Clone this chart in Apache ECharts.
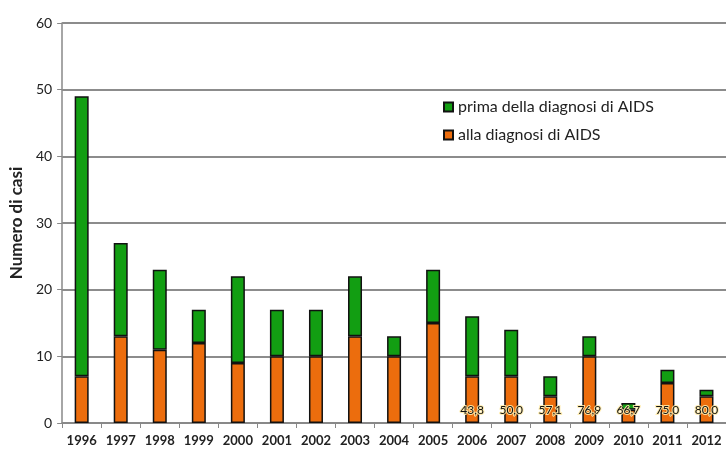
<!DOCTYPE html>
<html>
<head>
<meta charset="utf-8">
<script src="https://cdn.jsdelivr.net/npm/echarts@6/dist/echarts.min.js"></script>
<style>
  html, body { margin: 0; padding: 0; background: #fff; }
  #chart { width: 726px; height: 452px; }
</style>
</head>
<body>
<div id="chart"></div>
<script>
// anni
const years = ['1996', '1997', '1998', '1999', '2000', '2001', '2002', '2003', '2004',
  '2005', '2006', '2007', '2008', '2009', '2010', '2011', '2012']
// casi alla diagnosi di AIDS
const allaDiagnosi = [7, 13, 11, 12, 9, 10, 10, 13, 10, 15, 7, 7, 4, 10, 2, 6, 4]
// casi prima della diagnosi di AIDS
const primaDiagnosi = [42, 14, 12, 5, 13, 7, 7, 9, 3, 8, 9, 7, 3, 3, 1, 2, 1]
// percentuali mostrate sulle barre (solo dal 2006)
const percentuali = ['', '', '', '', '', '', '', '', '', '', '43,8', '50,0', '57,1', '76,9', '66,7', '75,0', '80,0']

const chart = echarts.init(document.getElementById('chart'))
const font = 'Lato, "Open Sans", sans-serif'

const option = {
  animation: false,
  textStyle: { fontFamily: font },
  grid: { left: 61, top: 23, bottom: 29, right: -3 },
  legend: {
    orient: 'vertical',
    left: 438,
    top: 94,
    itemGap: 12,
    itemWidth: 9,
    itemHeight: 9,
    icon: 'rect',
    textStyle: { fontSize: 16, color: '#222', fontFamily: font },
    data: ['prima della diagnosi di AIDS', 'alla diagnosi di AIDS']
  },
  xAxis: {
    type: 'category',
    data: years,
    axisLine: { lineStyle: { color: '#888', width: 1.5 } },
    axisTick: { show: true, length: 5, interval: 0, lineStyle: { color: '#888' } },
    axisLabel: { color: '#222', fontSize: 13, fontWeight: 'bold', margin: 11, interval: 0, fontFamily: font }
  },
  yAxis: {
    type: 'value',
    min: 0,
    max: 60,
    interval: 10,
    name: 'Numero di casi',
    nameLocation: 'middle',
    nameGap: 36,
    nameTextStyle: { fontSize: 17, color: '#222', fontWeight: 'bold', fontFamily: font },
    axisLine: { show: true, lineStyle: { color: '#888', width: 1.5 } },
    axisTick: { show: true, length: 5, inside: false, lineStyle: { color: '#888' } },
    axisLabel: { color: '#222', fontSize: 14, margin: 10, fontFamily: font },
    splitLine: { lineStyle: { color: '#666', width: 1.5 } }
  },
  series: [
    {
      name: 'alla diagnosi di AIDS',
      type: 'bar',
      stack: 'casi',
      barWidth: 14,
      data: allaDiagnosi,
      itemStyle: { color: '#ec6d0d', borderColor: '#111', borderWidth: 1.5 },
      label: {
        show: true,
        position: 'insideBottom',
        distance: 7,
        formatter: p => percentuali[p.dataIndex],
        color: '#111',
        fontSize: 12,
        fontFamily: font,
        textBorderColor: 'rgba(255,235,170,0.9)',
        textBorderWidth: 2
      },
      z: 3
    },
    {
      name: 'prima della diagnosi di AIDS',
      type: 'bar',
      stack: 'casi',
      barWidth: 14,
      data: primaDiagnosi,
      itemStyle: { color: '#129e12', borderColor: '#111', borderWidth: 1.5 }
    }
  ]
}
chart.setOption(option)
</script>
</body>
</html>
